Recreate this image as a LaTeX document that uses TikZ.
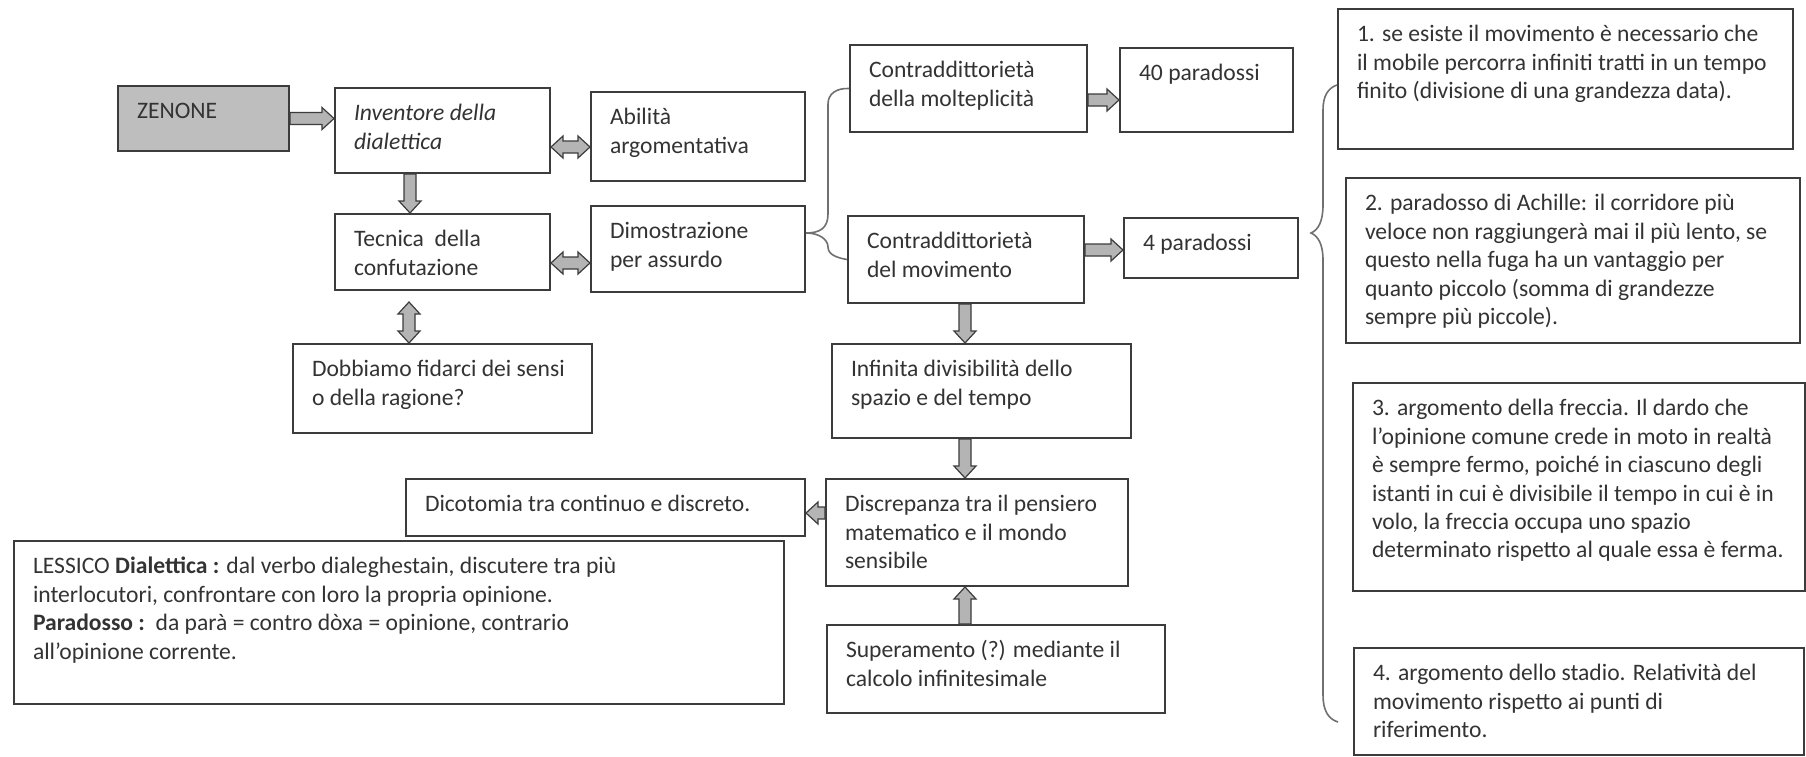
\documentclass[tikz,border=0pt]{standalone}
\usepackage{fontspec}
\setmainfont{Carlito}
\usetikzlibrary{calc}
\definecolor{txt}{HTML}{333333}
\definecolor{edge}{HTML}{3C3C3C}
\definecolor{zen}{HTML}{BEBEBE}
\definecolor{arrfill}{HTML}{B4B4B4}
\definecolor{brc}{HTML}{707070}
\newlength\bw
\newlength\bh
\tikzset{
  box/.style={draw=edge, line width=1pt, anchor=north west, inner xsep=9.5pt, inner ysep=6.5pt,
    text=txt, fill=white, font=\fontsize{11.8pt}{14.2pt}\selectfont},
  arrowst/.style={fill=arrfill, draw=edge, line width=0.6pt, line join=miter},
  bracest/.style={draw=brc, line width=0.8pt},
}
% box: [opts]{name}{x1}{y1}{x2}{y2}{text}
\newcommand\bx[7][]{%
  \pgfmathsetlength\bw{(#5-#3)*0.5pt-19pt}%
  \pgfmathsetlength\bh{(#6-#4)*0.5pt-13pt}%
  \node[box,#1] (#2) at (#3,#4) {\parbox[c][\bh][t]{\bw}{\begin{tabular}[t]{@{}l@{}}#7\end{tabular}}};%
}
\newcommand\blockone[2]{%
  \draw[arrowst] let \p1=(#1), \p2=(#2), \n1={atan2(\y2-\y1,\x2-\x1)} in
    ($(\p1)+(\n1+90:3pt)$) -- ($(\p2)+(\n1+180:6pt)+(\n1+90:3pt)$)
    -- ($(\p2)+(\n1+180:6pt)+(\n1+90:5.5pt)$) -- (\p2)
    -- ($(\p2)+(\n1+180:6pt)+(\n1-90:5.5pt)$) -- ($(\p2)+(\n1+180:6pt)+(\n1-90:3pt)$)
    -- ($(\p1)+(\n1-90:3pt)$) -- cycle;%
}
\newcommand\blocktwo[2]{%
  \draw[arrowst] let \p1=(#1), \p2=(#2), \n1={atan2(\y2-\y1,\x2-\x1)} in
    ($(\p1)+(\n1:6pt)+(\n1+90:3pt)$) -- ($(\p2)+(\n1+180:6pt)+(\n1+90:3pt)$)
    -- ($(\p2)+(\n1+180:6pt)+(\n1+90:5.5pt)$) -- (\p2)
    -- ($(\p2)+(\n1+180:6pt)+(\n1-90:5.5pt)$) -- ($(\p2)+(\n1+180:6pt)+(\n1-90:3pt)$)
    -- ($(\p1)+(\n1:6pt)+(\n1-90:3pt)$) -- ($(\p1)+(\n1:6pt)+(\n1-90:5.5pt)$) -- (\p1)
    -- ($(\p1)+(\n1:6pt)+(\n1+90:5.5pt)$) -- cycle;%
}
\begin{document}
\begin{tikzpicture}[x=0.5pt,y=-0.5pt]
\useasboundingbox[fill=white] (0,0) rectangle (1806,756);

% left part
\bx[fill=zen]{zen}{117}{85}{288}{150}{ZENONE}
\bx{inv}{334}{87}{549}{172}{\textit{Inventore della}\\ \textit{dialettica}}
\bx{abi}{590}{91}{804}{180}{Abilità\\ argomentativa}
\bx{tec}{334}{213}{549}{289}{Tecnica\ \ della\\ confutazione}
\bx{dim}{590}{205}{804}{291}{Dimostrazione\\ per assurdo}
\bx{dob}{292}{343}{591}{432}{Dobbiamo fidarci dei sensi\\ o della ragione?}

% middle column
\bx{molt}{849}{44}{1086}{131}{Contraddittorietà\\ della molteplicità}
\bx{p40}{1119}{47}{1292}{131}{40 paradossi}
\bx{mov}{847}{215}{1083}{302}{Contraddittorietà\\ del movimento}
\bx{p4}{1123}{217}{1297}{277}{4 paradossi}
\bx{inf}{831}{343}{1130}{437}{Infinita divisibilità dello\\ spazio e del tempo}
\bx{dis}{825}{478}{1127}{585}{Discrepanza tra il pensiero\\ matematico e il mondo\\ sensibile}
\bx{dic}{405}{478}{804}{535}{Dicotomia tra continuo e discreto.}
\bx{lex}{13}{540}{783}{703}{LESSICO \textbf{Dialettica :} dal verbo dialeghestain, discutere tra più\\ interlocutori, confrontare con loro la propria opinione.\\ \textbf{Paradosso :}\ \ da parà = contro dòxa = opinione, contrario\\ all’opinione corrente.}
\bx{sup}{826}{624}{1164}{712}{Superamento (?) mediante il\\ calcolo infinitesimale}

% right column
\bx{b1}{1337}{8}{1792}{148}{1. se esiste il movimento è necessario che\\ il mobile percorra infiniti tratti in un tempo\\ finito (divisione di una grandezza data).}
\bx{b2}{1345}{177}{1799}{342}{2. paradosso di Achille: il corridore più\\ veloce non raggiungerà mai il più lento, se\\ questo nella fuga ha un vantaggio per\\ quanto piccolo (somma di grandezze\\ sempre più piccole).}
\bx{b3}{1352}{382}{1804}{590}{3. argomento della freccia. Il dardo che\\ l’opinione comune crede in moto in realtà\\ è sempre fermo, poiché in ciascuno degli\\ istanti in cui è divisibile il tempo in cui è in\\ volo, la freccia occupa uno spazio\\ determinato rispetto al quale essa è ferma.}
\bx{b4}{1353}{647}{1803}{754}{4. argomento dello stadio. Relatività del\\ movimento rispetto ai punti di\\ riferimento.}

% block arrows
\blockone{zen.east}{inv.west |- zen.east}
\blocktwo{inv.east |- 0,147}{abi.west |- 0,147}
\blockone{410,0 |- inv.south}{410,0 |- tec.north}
\blocktwo{tec.east |- 0,263}{dim.west |- 0,263}
\blocktwo{$(409,0 |- tec.south)+(0,11)$}{409,0 |- dob.north}
\blockone{molt.east |- 0,100}{p40.west |- 0,100}
\blockone{mov.east |- 0,250}{p4.west |- 0,250}
\blockone{965,0 |- mov.south}{965,0 |- inf.north}
\blockone{965,0 |- inf.south}{965,0 |- dis.north}
\blockone{965,0 |- sup.north}{965,0 |- dis.south}
\blockone{dis.west |- 0,513}{dic.east |- 0,513}

% bracket from Dimostrazione
\draw[bracest] (dim.east |- 0,233) .. controls (820,233) and (828,228) .. (828,214) -- (828,104) .. controls (828,94) and (836,88) .. (molt.west);
\draw[bracest] (dim.east |- 0,233) .. controls (820,233) and (828,240) .. (828,247) .. controls (828,255) and (838,258) .. (mov.west);

% large brace
\draw[bracest] (b1.west |- 0,85) .. controls (1328,88) and (1323,96) .. (1323,110) -- (1323,205) .. controls (1323,222) and (1318,230) .. (1311,233) .. controls (1318,236) and (1323,244) .. (1323,260) -- (1323,695) .. controls (1323,710) and (1328,719) .. (1338,722);
\end{tikzpicture}
\end{document}
